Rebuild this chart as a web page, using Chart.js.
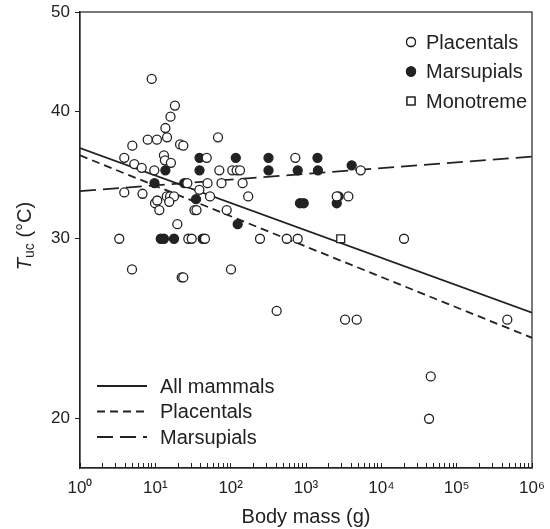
<!DOCTYPE html>
<html>
<head>
<meta charset="utf-8">
<script src="https://cdn.jsdelivr.net/npm/chart.js@4"></script>
<style>
  html, body { margin: 0; padding: 0; background: #fff; }
</style>
</head>
<body>
<canvas id="chart1" width="550" height="529"></canvas>
<script>
// body mass (g) and upper critical temperature Tuc (°C)
const placentalMass = [8.95, 18.2, 15.9, 13.6, 14.3, 7.92, 10.5, 67.9, 4.95, 21.3, 23.5, 3.87, 5.26, 6.59, 9.69,
    13.0, 13.4, 16.1, 48.1, 70.7, 105, 120, 133, 721, 5320, 26.6, 49.3, 75.6, 144, 3.87, 6.76, 38.4, 14.2, 15.7,
    17.7, 53.2, 171, 9.9, 10.6, 15.3, 11.3, 33.1, 35.2, 88.6, 19.6, 3.32, 27.4, 30.4, 45.6, 245, 555, 776, 20000,
    4.9, 22.4, 23.5, 101, 408, 3300, 4710, 470000, 45300, 43000, 2560, 3650];
const placentalTuc = [43.0, 40.5, 39.5, 38.5, 37.7, 37.5, 37.5, 37.7, 37.0, 37.1, 37.0, 36.0, 35.5, 35.2, 35.0,
    36.2, 35.8, 35.6, 36.0, 35.0, 35.0, 35.0, 35.0, 36.0, 35.0, 34.0, 34.0, 34.0, 34.0, 33.3, 33.2, 33.5, 33.0, 33.0,
    33.0, 33.0, 33.0, 32.5, 32.7, 32.6, 32.0, 32.0, 32.0, 32.0, 31.0, 30.0, 30.0, 30.0, 30.0, 30.0, 30.0, 30.0, 30.0,
    28.0, 27.5, 27.5, 28.0, 25.5, 25.0, 25.0, 25.0, 22.0, 20.0, 33.0, 33.0];

const marsupialMass = [13.6, 38.6, 38.6, 117, 9.75, 24.2, 34.7, 124, 11.8, 13.0, 17.7, 42.6, 318, 318, 1420, 776,
    1440, 4040, 832, 933, 2700, 2560];
const marsupialTuc = [35.0, 36.0, 35.0, 36.0, 34.0, 34.0, 32.8, 31.0, 30.0, 30.0, 30.0, 30.0, 36.0, 35.0, 36.0, 35.0,
    35.0, 35.4, 32.5, 32.5, 33.0, 32.5];

const monotremeMass = [2890];
const monotremeTuc = [30.0];

// fitted lines, end points at the edges of the mass axis
const fitMass = [1, 1e6];
const allMammalsFit = [36.8, 25.4];
const placentalFit = [36.2, 24.0];
const marsupialFit = [33.4, 36.1];

const xTickLabels = {1: '10⁰', 10: '10¹', 100: '10²', 1000: '10³', 10000: '10⁴', 100000: '10⁵', 1000000: '10⁶'};
const yTickValues = [20, 30, 40, 50];

const ink = '#222';
const fontFamily = '"Liberation Sans", Arial, Helvetica, sans-serif';

function toPoints(xs, ys) {
    return xs.map((x, i) => ({x: x, y: ys[i]}));
}

// open circle / filled circle / square, plus the three fit lines
const datasets = [
    {
        label: 'Placentals', type: 'scatter', data: toPoints(placentalMass, placentalTuc),
        pointStyle: 'circle', pointRadius: 4.5, backgroundColor: '#fff', borderColor: ink, borderWidth: 1.3, order: 0
    },
    {
        label: 'Marsupials', type: 'scatter', data: toPoints(marsupialMass, marsupialTuc),
        pointStyle: 'circle', pointRadius: 4.5, backgroundColor: ink, borderColor: ink, borderWidth: 1.3, order: 0
    },
    {
        label: 'Monotreme', type: 'scatter', data: toPoints(monotremeMass, monotremeTuc),
        pointStyle: 'rect', pointRadius: 5.6, backgroundColor: '#fff', borderColor: ink, borderWidth: 1.3, order: 0
    },
    {
        label: 'All mammals', type: 'line', fit: true, data: toPoints(fitMass, allMammalsFit),
        borderColor: ink, borderWidth: 1.8, borderDash: [], pointRadius: 0, order: 5
    },
    {
        label: 'Placentals', type: 'line', fit: true, data: toPoints(fitMass, placentalFit),
        borderColor: ink, borderWidth: 1.8, borderDash: [8, 5], pointRadius: 0, order: 5
    },
    {
        label: 'Marsupials', type: 'line', fit: true, data: toPoints(fitMass, marsupialFit),
        borderColor: ink, borderWidth: 1.8, borderDash: [16, 7], pointRadius: 0, order: 5
    }
];

// frame, y title with subscript, and the two legends
const extras = {
    id: 'extras',
    afterDraw(chart) {
        const ctx = chart.ctx;
        const a = chart.chartArea;
        ctx.save();
        ctx.strokeStyle = ink;
        ctx.lineWidth = 1.2;
        ctx.strokeRect(a.left, a.top, a.right - a.left, a.bottom - a.top);

        // y axis title: T_uc (°C)
        ctx.fillStyle = ink;
        ctx.textBaseline = 'middle';
        ctx.textAlign = 'left';
        ctx.translate(25, 236);
        ctx.rotate(-Math.PI / 2);
        const big = '20px ' + fontFamily;
        const italic = 'italic 20px ' + fontFamily;
        const small = '14px ' + fontFamily;
        ctx.font = italic; const wT = ctx.measureText('T').width;
        ctx.font = small; const wS = ctx.measureText('uc').width;
        ctx.font = big; const wR = ctx.measureText(' (°C)').width;
        let x = -(wT + wS + wR) / 2;
        ctx.font = italic; ctx.fillText('T', x, 0); x += wT;
        ctx.font = small; ctx.fillText('uc', x, 5); x += wS;
        ctx.font = big; ctx.fillText(' (°C)', x, 0);
        ctx.setTransform(1, 0, 0, 1, 0, 0);

        // marker legend, top right
        ctx.font = '20px ' + fontFamily;
        const marks = chart.data.datasets.filter(d => !d.fit);
        marks.forEach((d, i) => {
            const y = 42 + i * 29.5;
            ctx.lineWidth = d.borderWidth;
            ctx.strokeStyle = d.borderColor;
            ctx.fillStyle = d.backgroundColor;
            Chart.helpers.drawPoint(ctx, {pointStyle: d.pointStyle, radius: d.pointStyle === 'rect' ? 5.6 : 4.5, rotation: 0, borderWidth: d.borderWidth}, 411, y);
            ctx.fill();
            ctx.stroke();
            ctx.fillStyle = ink;
            ctx.fillText(d.label, 426, y + 1);
        });

        // line legend, bottom left
        const fits = chart.data.datasets.filter(d => d.fit);
        fits.forEach((d, i) => {
            const y = 386 + i * 25.5;
            ctx.beginPath();
            ctx.setLineDash(d.borderDash);
            ctx.lineWidth = d.borderWidth;
            ctx.strokeStyle = ink;
            ctx.moveTo(97, y);
            ctx.lineTo(147, y);
            ctx.stroke();
            ctx.setLineDash([]);
            ctx.fillStyle = ink;
            ctx.fillText(d.label, 160, y + 1);
        });
        ctx.restore();
    }
};

const ctx = document.getElementById('chart1').getContext('2d');
const chart1 = new Chart(ctx, {
    type: 'scatter',
    data: { datasets: datasets },
    options: {
        responsive: false,
        animation: false,
        devicePixelRatio: 1,
        layout: { padding: { left: 0, right: 18, top: 12, bottom: 0 } },
        plugins: {
            legend: { display: false },
            tooltip: { enabled: false },
            title: { display: false }
        },
        scales: {
            x: {
                type: 'logarithmic',
                min: 1,
                max: 1e6,
                afterFit: (s) => { s.height = 61; s.paddingLeft = 0; s.paddingRight = 0; },
                afterBuildTicks: (s) => {
                    const t = [];
                    for (let p = 1; p < 1e6; p *= 10) {
                        for (let k = 1; k < 10; k++) t.push({value: p * k});
                    }
                    t.push({value: 1e6});
                    s.ticks = t;
                },
                grid: { drawOnChartArea: false, drawTicks: true, tickLength: -5, color: ink, lineWidth: 1 },
                border: { display: true, color: ink, width: 1.2 },
                ticks: {
                    autoSkip: false,
                    maxRotation: 0,
                    padding: 15,
                    color: ink,
                    font: { family: fontFamily, size: 17 },
                    callback: (v) => xTickLabels[v] || ''
                },
                title: {
                    display: true,
                    text: 'Body mass (g)',
                    color: ink,
                    font: { family: fontFamily, size: 20 },
                    padding: { top: 2, bottom: 0 }
                }
            },
            y: {
                type: 'logarithmic',
                min: 17.9,
                max: 50,
                afterFit: (s) => { s.width = 80; s.paddingTop = 0; s.paddingBottom = 0; },
                afterBuildTicks: (s) => { s.ticks = yTickValues.map(v => ({value: v})); },
                grid: { drawOnChartArea: false, drawTicks: true, tickLength: 5, color: ink, lineWidth: 1 },
                border: { display: true, color: ink, width: 1.2 },
                ticks: {
                    padding: 5,
                    color: ink,
                    font: { family: fontFamily, size: 17 },
                    callback: (v) => String(v)
                }
            }
        }
    },
    plugins: [extras]
});
</script>
</body>
</html>
